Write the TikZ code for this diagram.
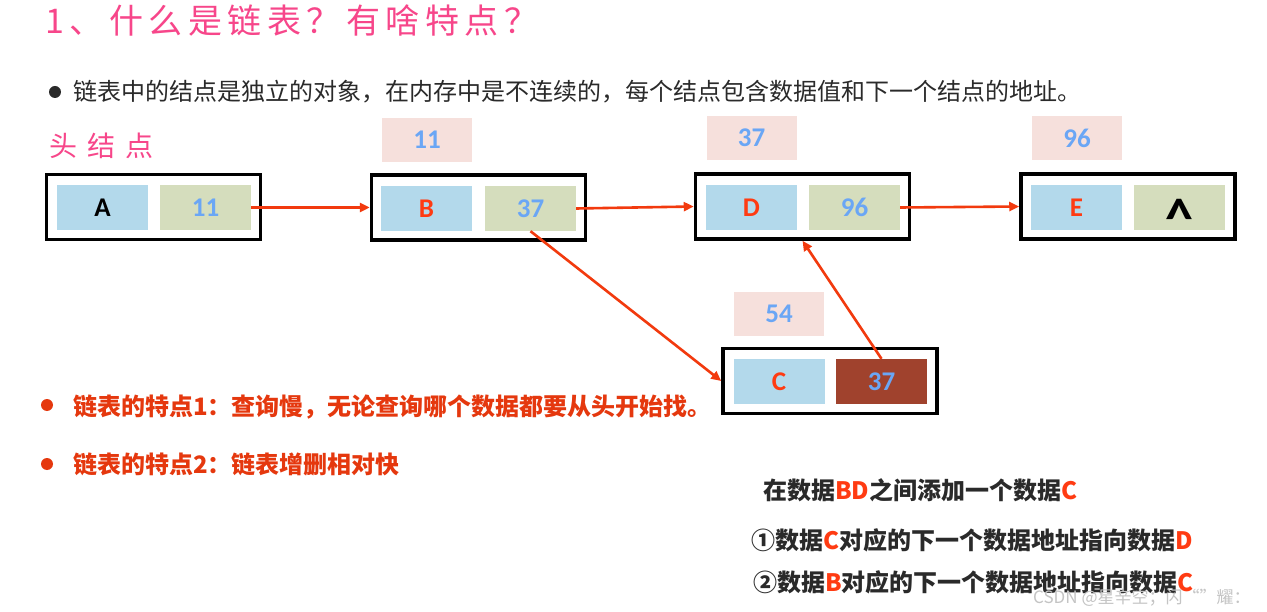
\documentclass[tikz,border=0pt]{standalone}
\usepackage{fontspec}
\newfontfamily\cjk{Noto Sans CJK SC}
\newfontfamily\lat{Carlito}
\usetikzlibrary{arrows.meta}
\definecolor{titlepink}{HTML}{F7468A}
\definecolor{cellblue}{HTML}{B3D9EB}
\definecolor{cellgreen}{HTML}{D5DDBD}
\definecolor{addrpink}{HTML}{F6E0DC}
\definecolor{numblue}{HTML}{6AA6F5}
\definecolor{letred}{HTML}{FF3B12}
\definecolor{linkred}{HTML}{F23A0E}
\definecolor{txtred}{HTML}{E5380E}
\definecolor{cellbrown}{HTML}{A0422D}
\definecolor{darktxt}{HTML}{2A2A2A}
\definecolor{wmgray}{HTML}{C4C4C4}
\newcommand\tgap{\hskip 5.5pt}
\newcommand\hgap{\hskip 10pt}
\tikzset{
  outerbox/.style={draw=black, line width=3.5pt, minimum width=214pt, minimum height=65pt, inner sep=0pt},
  cellbox/.style={minimum width=91pt, minimum height=45pt, inner sep=0pt, font=\lat\bfseries\fontsize{27}{27}\selectfont},
  bluecell/.style={cellbox, fill=cellblue},
  greencell/.style={cellbox, fill=cellgreen, text=numblue},
  addrbox/.style={fill=addrpink, minimum width=90pt, minimum height=44pt, inner sep=0pt, text=numblue, font=\lat\bfseries\fontsize{27}{27}\selectfont},
  link/.style={draw=linkred, line width=2.6pt, -{Triangle[length=10pt,width=9pt]}},
  plain/.style={inner sep=0pt, anchor=west},
}
\begin{document}
\begin{tikzpicture}[x=1pt,y=-1pt]
\useasboundingbox[fill=white] (0,0) rectangle (1267,612);

% title
\node[plain, text=titlepink, font=\cjk\fontsize{34}{34}\selectfont] (title) at (45,21)
  {1\tgap 、\tgap 什\tgap 么\tgap 是\tgap 链\tgap 表\tgap ？\tgap 有\tgap 啥\tgap 特\tgap 点\tgap ？};

% intro bullet
\fill[darktxt] (55,92) circle (6pt);
\node[plain, text=darktxt, font=\cjk\fontsize{24}{24}\selectfont] (intro) at (73,92)
  {链表中的结点是独立的对象，在内存中是不连续的，每个结点包含数据值和下一个结点的地址。};

% head label
\node[plain, text=titlepink, font=\cjk\fontsize{28}{28}\selectfont] (head) at (49,146)
  {头\hgap 结\hgap 点};

% node A
\node[outerbox] (A) at (153.5,207) {};
\node[bluecell] (Al) at (102.5,207.5) {A};
\node[greencell] (Ar) at (205.5,207.5) {11};

% node B
\node[addrbox] (Ba) at (427,140) {11};
\node[outerbox] (B) at (478.5,207.5) {};
\node[bluecell, text=letred] (Bl) at (426.5,208.5) {B};
\node[greencell] (Br) at (530.5,208.5) {37};

% node D
\node[addrbox] (Da) at (751.5,138) {37};
\node[outerbox] (D) at (802.5,206.5) {};
\node[bluecell, text=letred] (Dl) at (751.5,207.5) {D};
\node[greencell] (Dr) at (854.5,207.5) {96};

% node E
\node[addrbox] (Ea) at (1077,138) {96};
\node[outerbox] (E) at (1128,206.5) {};
\node[bluecell, text=letred] (El) at (1076.5,207.5) {E};
\node[greencell] (Er) at (1179.5,207.5) {};
\node[inner sep=0pt, anchor=base, font=\lat\bfseries\fontsize{56}{56}\selectfont] (caret) at (1179.5,238) {\textasciicircum};

% node C
\node[addrbox] (Ca) at (779,314) {54};
\node[outerbox] (C) at (830,381) {};
\node[bluecell, text=letred] (Cl) at (779,381.5) {C};
\node[cellbox, fill=cellbrown, text=numblue] (Cr) at (881.5,381.5) {37};

% links
\draw[link] (Ar.east) -- (B.west);
\draw[link] (Br.east) -- (D.west);
\draw[link] (Dr.east) -- (E.west);
\draw[link] (Br.south) -- (C.west);
\draw[link] (Cr.north) -- (D.south);

% feature bullets
\fill[txtred] (47,405) circle (6pt);
\node[plain, text=txtred, font=\cjk\bfseries\fontsize{24}{24}\selectfont] (f1) at (73,407)
  {链表的特点1：查询慢，无论查询哪个数据都要从头开始找。};
\fill[txtred] (47,464) circle (6pt);
\node[plain, text=txtred, font=\cjk\bfseries\fontsize{24}{24}\selectfont] (f2) at (73,464)
  {链表的特点2：链表增删相对快};

% steps
\node[plain, text=darktxt, font=\cjk\bfseries\fontsize{24}{24}\selectfont] (s0) at (763,490)
  {在数据\textcolor{letred}{BD}之间添加一个数据\textcolor{letred}{C}};
\node[plain, text=darktxt, font=\cjk\bfseries\fontsize{24}{24}\selectfont] (s1) at (751,540)
  {①数据\textcolor{letred}{C}对应的下一个数据地址指向数据\textcolor{letred}{D}};
\node[plain, text=darktxt, font=\cjk\bfseries\fontsize{24}{24}\selectfont] (s2) at (753,582)
  {②数据\textcolor{letred}{B}对应的下一个数据地址指向数据\textcolor{letred}{C}};

% watermark
\node[plain, text=wmgray, font=\cjk\fontsize{17}{17}\selectfont] (wm) at (1033,598)
  {CSDN @星辛空；闪“”耀：};
\end{tikzpicture}
\end{document}
